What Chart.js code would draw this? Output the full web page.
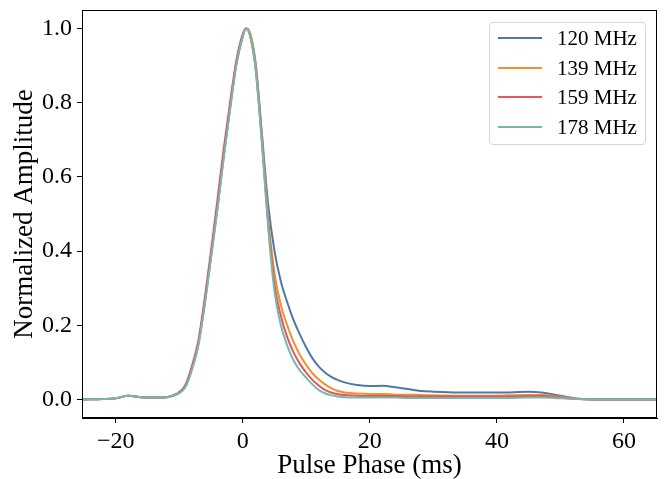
<!DOCTYPE html>
<html lang="en">
<head>
<meta charset="UTF-8">
<title>Pulse profiles</title>
<script src="https://cdn.jsdelivr.net/npm/chart.js"></script>
<style>
  body { margin: 0; background: #fff; }
  .wrap { position: relative; width: 665px; height: 479px; }
  .legend {
    position: absolute; left: 489px; top: 22px; width: 155px; height: 121px;
    border: 1px solid #d6d6d6; border-radius: 4px; background: rgba(255,255,255,0.85);
    font-family: "Liberation Serif", serif; font-size: 21px; color: #000;
  }
  .legend .row { position: absolute; left: 0; height: 24px; display: flex; align-items: center; }
  .legend .swatch { position: absolute; left: 8px; width: 44px; height: 2px; }
  .legend .label { position: absolute; left: 67px; white-space: nowrap; line-height: 24px; top: -12px; }
</style>
</head>
<body>
<div class="wrap">
  <canvas id="profile" width="665" height="479"></canvas>
  <div class="legend" id="legend"></div>
</div>
<script>
// pulse phase (ms) sample points
const phase = [-25.3, -22, -20, -18, -16, -14, -12, -11, -10, -9, -8, -7, -6, -5, -4, -3, -2, -1, 0, 0.5, 1, 2,
               3, 4, 5, 6, 7, 8, 9, 10, 11, 12, 13, 14, 15, 16, 18, 20, 22, 24, 26, 28, 30, 34, 38, 42, 45, 47, 50, 53, 56, 60, 65.2];

const amp120 = [0, 0.001, 0.003, 0.01, 0.006, 0.005, 0.006, 0.01, 0.018, 0.036, 0.082, 0.148, 0.258, 0.385, 0.515, 0.655, 0.785, 0.905, 0.978, 1.0, 0.993, 0.91,
                0.72, 0.525, 0.4, 0.318, 0.262, 0.214, 0.175, 0.14, 0.11, 0.088, 0.072, 0.06, 0.052, 0.046, 0.039, 0.036, 0.037, 0.033, 0.028, 0.023, 0.021, 0.019, 0.019, 0.019, 0.021, 0.019, 0.01, 0.002, 0, 0, 0];
const amp139 = [0, 0.001, 0.003, 0.01, 0.006, 0.005, 0.006, 0.01, 0.018, 0.037, 0.084, 0.15, 0.26, 0.388, 0.52, 0.66, 0.79, 0.908, 0.98, 1.0, 0.994, 0.905,
                0.71, 0.49, 0.34, 0.255, 0.2, 0.155, 0.12, 0.093, 0.07, 0.053, 0.04, 0.03, 0.023, 0.019, 0.016, 0.015, 0.015, 0.013, 0.013, 0.012, 0.011, 0.01, 0.01, 0.011, 0.012, 0.012, 0.007, 0.001, 0, 0, 0];
const amp159 = [0, 0.001, 0.003, 0.01, 0.006, 0.005, 0.006, 0.011, 0.02, 0.04, 0.09, 0.158, 0.27, 0.4, 0.535, 0.675, 0.8, 0.915, 0.985, 1.0, 0.99, 0.895,
                0.70, 0.475, 0.31, 0.225, 0.168, 0.127, 0.096, 0.072, 0.052, 0.037, 0.025, 0.018, 0.014, 0.012, 0.01, 0.009, 0.009, 0.009, 0.008, 0.008, 0.008, 0.008, 0.008, 0.008, 0.009, 0.009, 0.005, 0.001, 0, 0, 0];
const amp178 = [0, 0.001, 0.003, 0.01, 0.006, 0.005, 0.006, 0.01, 0.017, 0.034, 0.08, 0.145, 0.252, 0.38, 0.51, 0.65, 0.78, 0.902, 0.978, 1.0, 0.99, 0.895,
                0.695, 0.465, 0.29, 0.2, 0.145, 0.105, 0.078, 0.058, 0.04, 0.025, 0.016, 0.011, 0.008, 0.006, 0.005, 0.005, 0.005, 0.005, 0.004, 0.004, 0.004, 0.004, 0.004, 0.004, 0.005, 0.005, 0.003, 0.001, 0, 0, 0];

const seriesNames = ["120 MHz", "139 MHz", "159 MHz", "178 MHz"];
const seriesColors = ["#4e79a7", "#f28e2b", "#e15759", "#76b7b2"];
const xTicks = [-20, 0, 20, 40, 60];
const yTicks = [0, 0.2, 0.4, 0.6, 0.8, 1.0];

const amps = [amp120, amp139, amp159, amp178];
const serif = "'Liberation Serif', 'DejaVu Serif', serif";

const datasets = amps.map((a, i) => ({
    label: seriesNames[i],
    data: phase.map((x, j) => ({ x: x, y: a[j] })),
    borderColor: seriesColors[i],
    borderWidth: 2,
    pointRadius: 0,
    fill: false,
    cubicInterpolationMode: "monotone",
    order: amps.length - i
}));

// closes the frame on top and right
const frame = {
    id: "frame",
    afterDraw(chart) {
        const a = chart.chartArea, c = chart.ctx;
        c.save();
        c.strokeStyle = "#000";
        c.lineWidth = 1;
        c.strokeRect(a.left + 0.5, a.top + 0.5, a.right - a.left - 1, a.bottom - a.top - 1);
        c.restore();
    }
};

new Chart(document.getElementById("profile"), {
    type: "line",
    data: { datasets: datasets },
    options: {
        responsive: false,
        animation: false,
        devicePixelRatio: 1,
        layout: { padding: { top: 10, right: 8, left: 0, bottom: 0 } },
        plugins: { legend: { display: false }, tooltip: { enabled: false } },
        scales: {
            x: {
                type: "linear",
                min: -25.3,
                max: 65.2,
                afterBuildTicks: s => { s.ticks = xTicks.map(v => ({ value: v })); },
                afterFit: s => { s.height = 61; s.paddingLeft = 0; s.paddingRight = 0; },
                grid: { drawOnChartArea: false, tickLength: 5, tickColor: "#000" },
                border: { color: "#000" },
                ticks: {
                    color: "#000", padding: 4, maxRotation: 0,
                    font: { family: serif, size: 24 },
                    callback: v => (v < 0 ? "\u2212" + Math.abs(v) : String(v))
                },
                title: {
                    display: true, text: "Pulse Phase (ms)", color: "#000",
                    font: { family: serif, size: 27, lineHeight: 1 },
                    padding: { top: 0, bottom: 0 }
                }
            },
            y: {
                min: -0.05,
                max: 1.05,
                afterBuildTicks: s => { s.ticks = yTicks.map(v => ({ value: v })); },
                afterFit: s => { s.width = 82; s.paddingTop = 0; s.paddingBottom = 0; },
                grid: { drawOnChartArea: false, tickLength: 5, tickColor: "#000" },
                border: { color: "#000" },
                ticks: {
                    color: "#000", padding: 5,
                    font: { family: serif, size: 24 },
                    callback: v => v.toFixed(1)
                },
                title: {
                    display: true, text: "Normalized Amplitude", color: "#000",
                    font: { family: serif, size: 27, lineHeight: 1 },
                    padding: { top: 11, bottom: 0 }
                }
            }
        }
    },
    plugins: [frame]
});

// legend box inside the axes, upper right
const legendBox = document.getElementById("legend");
const rowTops = [15, 45, 74, 104];
seriesNames.forEach((name, i) => {
    const row = document.createElement("div");
    row.className = "row";
    row.style.top = rowTops[i] + "px";
    const sw = document.createElement("span");
    sw.className = "swatch";
    sw.style.background = seriesColors[i];
    sw.style.top = "-1px";
    const lb = document.createElement("span");
    lb.className = "label";
    lb.textContent = name;
    row.appendChild(sw);
    row.appendChild(lb);
    legendBox.appendChild(row);
});
</script>
</body>
</html>
